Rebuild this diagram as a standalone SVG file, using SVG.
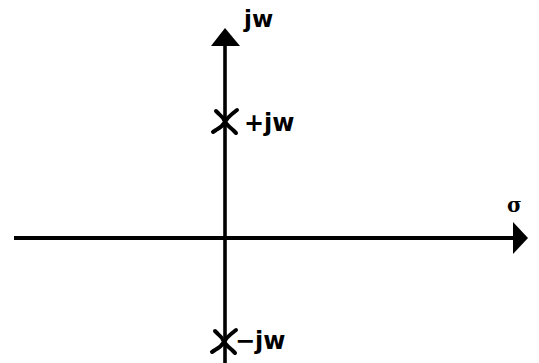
<svg xmlns="http://www.w3.org/2000/svg" width="539" height="363" viewBox="0 0 539 363">
<style>
.axis{stroke:#000;stroke-width:4;fill:none}
.xm{stroke:#000;stroke-width:4;fill:none;stroke-linecap:round;stroke-linejoin:round}
.lbl{font-family:"DejaVu Sans",sans-serif;font-weight:bold;font-size:24px;fill:#000}
</style>
<rect width="539" height="363" fill="#fff"/>
<g id="connectors">
<line class="axis" x1="14" y1="238" x2="516" y2="238"/>
<polygon points="528,238 513,222 513,254" fill="#000"/>
<line class="axis" x1="225" y1="42" x2="225" y2="363" style="stroke-width:3.6"/>
<polygon points="225,28 240,46 211,46" fill="#000"/>
</g>
<g id="pole-pos">
<path class="xm" d="M216,111 L219,114 Q223,117 225,122 Q228,117 232,114 L237,110 M213,132 L216,130 Q222,127 225,122 Q229,127 233,130 L236,133"/>
<text class="lbl" x="244" y="131">+jw</text>
</g>
<g id="pole-neg">
<path class="xm" d="M215,331 L218,334 Q222,337 224,342 Q227,337 231,334 L236,330 M212,352 L215,350 Q221,347 224,342 Q228,347 232,350 L235,353"/>
<text class="lbl" x="235" y="349">−jw</text>
</g>
<g id="label-jw"><text class="lbl" x="244" y="27" style="font-size:23px">jw</text></g>
<g id="label-sigma"><text x="507" y="212" style="font-family:'DejaVu Serif',serif;font-size:20px;font-weight:bold">σ</text></g>
</svg>
